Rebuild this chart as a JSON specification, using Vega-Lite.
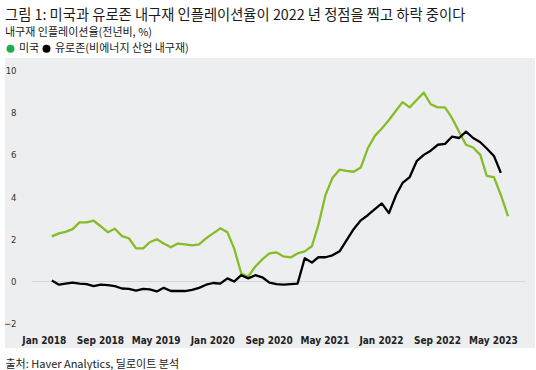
{
  "$schema": "https://vega.github.io/schema/vega-lite/v6.json",
  "width": 530,
  "height": 290,
  "autosize": {"type": "none"},
  "padding": {"left": 5, "top": 58, "right": 1, "bottom": 22},
  "background": "white",
  "config": {
    "view": {"fill": "#EDEEF0", "stroke": null},
    "font": "Noto Sans CJK KR"
  },
  "title": {
    "text": "그림 1: 미국과 유로존 내구재 인플레이션율이 2022 년 정점을 찍고 하락 중이다",
    "subtitle": "내구재 인플레이션율(전년비, %)",
    "anchor": "start",
    "frame": "group",
    "orient": "top",
    "offset": 5,
    "font": "Noto Sans CJK KR",
    "fontSize": 14.3,
    "fontWeight": "normal",
    "color": "#1a1a1a",
    "subtitleFont": "Noto Sans CJK KR",
    "subtitleFontSize": 11,
    "subtitleColor": "#1a1a1a",
    "subtitlePadding": 4
  },
  "data": {
    "values": [
      {"month": "2018-01-01", "미국": 2.14, "유로존(비에너지 산업 내구재)": 0.05},
      {"month": "2018-02-01", "미국": 2.28, "유로존(비에너지 산업 내구재)": -0.15},
      {"month": "2018-03-01", "미국": 2.35, "유로존(비에너지 산업 내구재)": -0.1},
      {"month": "2018-04-01", "미국": 2.48, "유로존(비에너지 산업 내구재)": -0.05},
      {"month": "2018-05-01", "미국": 2.8, "유로존(비에너지 산업 내구재)": -0.1},
      {"month": "2018-06-01", "미국": 2.8, "유로존(비에너지 산업 내구재)": -0.12},
      {"month": "2018-07-01", "미국": 2.88, "유로존(비에너지 산업 내구재)": -0.22},
      {"month": "2018-08-01", "미국": 2.62, "유로존(비에너지 산업 내구재)": -0.15},
      {"month": "2018-09-01", "미국": 2.33, "유로존(비에너지 산업 내구재)": -0.17},
      {"month": "2018-10-01", "미국": 2.5, "유로존(비에너지 산업 내구재)": -0.22},
      {"month": "2018-11-01", "미국": 2.15, "유로존(비에너지 산업 내구재)": -0.33},
      {"month": "2018-12-01", "미국": 2.05, "유로존(비에너지 산업 내구재)": -0.35},
      {"month": "2019-01-01", "미국": 1.57, "유로존(비에너지 산업 내구재)": -0.43},
      {"month": "2019-02-01", "미국": 1.57, "유로존(비에너지 산업 내구재)": -0.35},
      {"month": "2019-03-01", "미국": 1.86, "유로존(비에너지 산업 내구재)": -0.37},
      {"month": "2019-04-01", "미국": 2.0, "유로존(비에너지 산업 내구재)": -0.47},
      {"month": "2019-05-01", "미국": 1.8, "유로존(비에너지 산업 내구재)": -0.3},
      {"month": "2019-06-01", "미국": 1.62, "유로존(비에너지 산업 내구재)": -0.45},
      {"month": "2019-07-01", "미국": 1.8, "유로존(비에너지 산업 내구재)": -0.45},
      {"month": "2019-08-01", "미국": 1.76, "유로존(비에너지 산업 내구재)": -0.45},
      {"month": "2019-09-01", "미국": 1.71, "유로존(비에너지 산업 내구재)": -0.4},
      {"month": "2019-10-01", "미국": 1.76, "유로존(비에너지 산업 내구재)": -0.3},
      {"month": "2019-11-01", "미국": 2.05, "유로존(비에너지 산업 내구재)": -0.15},
      {"month": "2019-12-01", "미국": 2.28, "유로존(비에너지 산업 내구재)": -0.07},
      {"month": "2020-01-01", "미국": 2.52, "유로존(비에너지 산업 내구재)": -0.1},
      {"month": "2020-02-01", "미국": 2.33, "유로존(비에너지 산업 내구재)": 0.15},
      {"month": "2020-03-01", "미국": 1.57, "유로존(비에너지 산업 내구재)": 0.0},
      {"month": "2020-04-01", "미국": 0.38, "유로존(비에너지 산업 내구재)": 0.3},
      {"month": "2020-05-01", "미국": 0.24, "유로존(비에너지 산업 내구재)": 0.15},
      {"month": "2020-06-01", "미국": 0.71, "유로존(비에너지 산업 내구재)": 0.3},
      {"month": "2020-07-01", "미국": 1.05, "유로존(비에너지 산업 내구재)": 0.2},
      {"month": "2020-08-01", "미국": 1.33, "유로존(비에너지 산업 내구재)": -0.05},
      {"month": "2020-09-01", "미국": 1.38, "유로존(비에너지 산업 내구재)": -0.12},
      {"month": "2020-10-01", "미국": 1.19, "유로존(비에너지 산업 내구재)": -0.15},
      {"month": "2020-11-01", "미국": 1.14, "유로존(비에너지 산업 내구재)": -0.12},
      {"month": "2020-12-01", "미국": 1.33, "유로존(비에너지 산업 내구재)": -0.1},
      {"month": "2021-01-01", "미국": 1.43, "유로존(비에너지 산업 내구재)": 1.1},
      {"month": "2021-02-01", "미국": 1.67, "유로존(비에너지 산업 내구재)": 0.9},
      {"month": "2021-03-01", "미국": 2.67, "유로존(비에너지 산업 내구재)": 1.15},
      {"month": "2021-04-01", "미국": 4.1, "유로존(비에너지 산업 내구재)": 1.15},
      {"month": "2021-05-01", "미국": 4.9, "유로존(비에너지 산업 내구재)": 1.24},
      {"month": "2021-06-01", "미국": 5.3, "유로존(비에너지 산업 내구재)": 1.43},
      {"month": "2021-07-01", "미국": 5.24, "유로존(비에너지 산업 내구재)": 1.95},
      {"month": "2021-08-01", "미국": 5.2, "유로존(비에너지 산업 내구재)": 2.48},
      {"month": "2021-09-01", "미국": 5.4, "유로존(비에너지 산업 내구재)": 2.9},
      {"month": "2021-10-01", "미국": 6.3, "유로존(비에너지 산업 내구재)": 3.14},
      {"month": "2021-11-01", "미국": 6.9, "유로존(비에너지 산업 내구재)": 3.43},
      {"month": "2021-12-01", "미국": 7.25, "유로존(비에너지 산업 내구재)": 3.7},
      {"month": "2022-01-01", "미국": 7.65, "유로존(비에너지 산업 내구재)": 3.24},
      {"month": "2022-02-01", "미국": 8.1, "유로존(비에너지 산업 내구재)": 4.1},
      {"month": "2022-03-01", "미국": 8.5, "유로존(비에너지 산업 내구재)": 4.67},
      {"month": "2022-04-01", "미국": 8.25, "유로존(비에너지 산업 내구재)": 4.95},
      {"month": "2022-05-01", "미국": 8.6, "유로존(비에너지 산업 내구재)": 5.7},
      {"month": "2022-06-01", "미국": 8.95, "유로존(비에너지 산업 내구재)": 6.0},
      {"month": "2022-07-01", "미국": 8.4, "유로존(비에너지 산업 내구재)": 6.2},
      {"month": "2022-08-01", "미국": 8.25, "유로존(비에너지 산업 내구재)": 6.48},
      {"month": "2022-09-01", "미국": 8.25, "유로존(비에너지 산업 내구재)": 6.52},
      {"month": "2022-10-01", "미국": 7.75, "유로존(비에너지 산업 내구재)": 6.86},
      {"month": "2022-11-01", "미국": 7.1, "유로존(비에너지 산업 내구재)": 6.8},
      {"month": "2022-12-01", "미국": 6.48, "유로존(비에너지 산업 내구재)": 7.1},
      {"month": "2023-01-01", "미국": 6.35, "유로존(비에너지 산업 내구재)": 6.8},
      {"month": "2023-02-01", "미국": 6.0, "유로존(비에너지 산업 내구재)": 6.6},
      {"month": "2023-03-01", "미국": 5.0, "유로존(비에너지 산업 내구재)": 6.3},
      {"month": "2023-04-01", "미국": 4.95, "유로존(비에너지 산업 내구재)": 5.95},
      {"month": "2023-05-01", "미국": 4.1, "유로존(비에너지 산업 내구재)": 5.15},
      {"month": "2023-06-01", "미국": 3.1, "유로존(비에너지 산업 내구재)": null}
    ]
  },
  "transform": [
    {"fold": ["미국", "유로존(비에너지 산업 내구재)"], "as": ["series", "value"]}
  ],
  "layer": [
    {
      "mark": {"type": "rule", "color": "#D4D5D8", "strokeWidth": 1},
      "encoding": {
        "y": {"datum": 0, "type": "quantitative"},
        "x": {"datum": {"year": 2017, "month": 10, "date": 7, "utc": true}, "type": "temporal"},
        "x2": {"datum": {"year": 2023, "month": 8, "date": 14, "utc": true}}
      }
    },
    {
      "mark": {"type": "line", "strokeWidth": 2.3, "strokeJoin": "round"},
      "encoding": {
        "x": {
          "field": "month",
          "type": "temporal",
          "scale": {
            "type": "utc",
            "domain": [
              {"year": 2017, "month": 6, "date": 12, "utc": true},
              {"year": 2023, "month": 9, "date": 26, "utc": true}
            ]
          },
          "axis": {
            "values": [
              {"year": 2018, "month": 1, "date": 1, "utc": true},
              {"year": 2018, "month": 9, "date": 1, "utc": true},
              {"year": 2019, "month": 5, "date": 1, "utc": true},
              {"year": 2020, "month": 1, "date": 1, "utc": true},
              {"year": 2020, "month": 9, "date": 1, "utc": true},
              {"year": 2021, "month": 5, "date": 1, "utc": true},
              {"year": 2022, "month": 1, "date": 1, "utc": true},
              {"year": 2022, "month": 9, "date": 1, "utc": true},
              {"year": 2023, "month": 5, "date": 1, "utc": true}
            ],
            "labelExpr": "utcFormat(datum.value, '%b %Y')",
            "domain": false,
            "ticks": false,
            "grid": false,
            "labelPadding": -5,
            "labelBaseline": "alphabetic",
            "labelFont": "DejaVu Sans Condensed, Roboto Condensed, Roboto, sans-serif",
            "labelFontWeight": "bold",
            "labelFontSize": 10,
            "labelColor": "#222222",
            "labelOffset": -8,
            "labelFlush": false,
            "labelOverlap": false,
            "title": "출처: Haver Analytics, 딜로이트 분석",
            "titleAnchor": "start",
            "titleAlign": "left",
            "titleX": 0,
            "titleY": 19,
            "titleBaseline": "alphabetic",
            "titleFont": "Noto Sans CJK KR",
            "titleFontWeight": "normal",
            "titleFontSize": 11,
            "titleColor": "#222222"
          }
        },
        "y": {
          "field": "value",
          "type": "quantitative",
          "scale": {"domain": [-3.15, 10.59], "nice": false, "zero": false},
          "axis": {
            "values": [-2, 0, 2, 4, 6, 8, 10],
            "domain": false,
            "ticks": false,
            "grid": false,
            "labelPadding": -11,
            "labelAlign": "right",
            "labelBaseline": "middle",
            "labelFont": "DejaVu Sans Condensed, Roboto Condensed, Roboto, sans-serif",
            "labelFontSize": 9.5,
            "labelColor": "#333333",
            "title": null
          }
        },
        "color": {
          "field": "series",
          "type": "nominal",
          "scale": {
            "domain": ["미국", "유로존(비에너지 산업 내구재)"],
            "range": ["#86BC25", "#000000"]
          },
          "legend": {
            "orient": "none",
            "legendX": 0,
            "legendY": -15,
            "direction": "horizontal",
            "title": null,
            "symbolType": "circle",
            "symbolSize": 64,
            "symbolStrokeWidth": 0,
            "labelFont": "Noto Sans CJK KR",
            "labelFontSize": 11,
            "labelColor": "#1a1a1a",
            "labelOffset": 3,
            "columnPadding": 1,
            "labelLimit": 300,
            "padding": 0,
            "encode": {
              "symbols": {
                "update": {
                  "fill": {"signal": "datum.value === '미국' ? '#1DAF4E' : '#000000'"},
                  "opacity": {"value": 1}
                }
              }
            }
          }
        }
      }
    }
  ]
}
